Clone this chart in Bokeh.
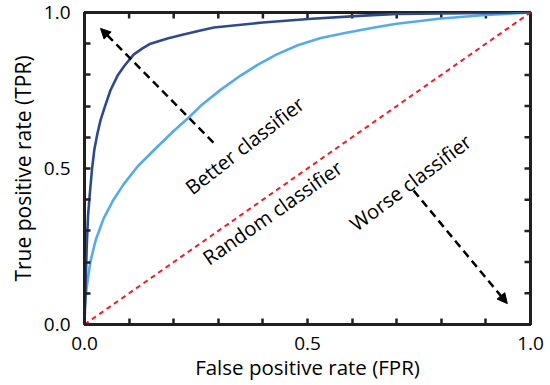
from bokeh.plotting import figure
from bokeh.models import Arrow, NormalHead, FixedTicker, Range1d, PrintfTickFormatter
from bokeh.core.properties import value
from bokeh.embed import file_html
from bokeh.resources import INLINE

# --- data ---
good_fpr = [0.0, 0.002, 0.005, 0.008, 0.012, 0.017, 0.022, 0.029, 0.036, 0.045, 0.058,
            0.075, 0.09, 0.11, 0.13, 0.148, 0.186, 0.215, 0.26, 0.29, 0.40, 0.51,
            0.626, 0.70, 0.85, 1.0]
good_tpr = [0.0, 0.10, 0.25, 0.35, 0.42, 0.50, 0.56, 0.612, 0.655, 0.695, 0.75,
            0.80, 0.83, 0.865, 0.885, 0.90, 0.917, 0.927, 0.942, 0.952, 0.968, 0.98,
            0.99, 0.995, 0.998, 1.0]

fair_fpr = [0.0, 0.005, 0.013, 0.025, 0.043, 0.065, 0.088, 0.12, 0.16, 0.20, 0.235, 0.26,
            0.305, 0.35, 0.388, 0.43, 0.478, 0.53, 0.59, 0.65, 0.70, 0.80, 0.90, 1.0]
fair_tpr = [0.045, 0.12, 0.20, 0.27, 0.34, 0.40, 0.45, 0.508, 0.565, 0.62, 0.665, 0.70,
            0.752, 0.798, 0.832, 0.865, 0.895, 0.918, 0.936, 0.952, 0.964, 0.981, 0.992, 1.0]

random_fpr = [0.0, 1.0]
random_tpr = [0.0, 1.0]

major_ticks = [0.0, 0.5, 1.0]
minor_ticks = [0.1, 0.2, 0.3, 0.4, 0.6, 0.7, 0.8, 0.9]

x_title = "False positive rate (FPR)"
y_title = "True positive rate (TPR)"

note_text = ["Better classifier", "Random classifier", "Worse classifier"]
note_x = [0.359, 0.4215, 0.731]
note_y = [0.574, 0.359, 0.455]
note_angle = [38, 35, 37]

better_arrow = [0.289, 0.583, 0.036, 0.949]   # x0, y0, x1, y1
worse_arrow = [0.738, 0.429, 0.948, 0.067]

# --- styles ---
FONT = "Open Sans"
DARK = "#2E4A8E"
LIGHT = "#55ABEA"
RED = "#EE1C25"
FRAME = "#231F20"

p = figure(width=550, height=385, output_backend="svg", toolbar_location=None,
           x_range=Range1d(0, 1), y_range=Range1d(0, 1),
           min_border_left=84, min_border_right=20, min_border_top=12, min_border_bottom=61,
           x_axis_label=x_title, y_axis_label=y_title)
p.grid.visible = False
p.outline_line_color = FRAME
p.outline_line_width = 3
p.background_fill_color = "white"
p.border_fill_color = "white"

ticker = FixedTicker(ticks=major_ticks, minor_ticks=minor_ticks)
for ax in (p.xaxis[0], p.yaxis[0]):
    ax.ticker = ticker
    ax.formatter = PrintfTickFormatter(format="%.1f")
    ax.axis_line_color = FRAME
    ax.axis_line_width = 3
    ax.major_tick_line_color = FRAME
    ax.minor_tick_line_color = FRAME
    ax.major_tick_line_width = 2.5
    ax.minor_tick_line_width = 2.5
    ax.major_tick_in = 6
    ax.major_tick_out = 0
    ax.minor_tick_in = 6
    ax.minor_tick_out = 0
    ax.major_label_text_font = FONT
    ax.major_label_text_font_size = "19px"
    ax.major_label_text_color = "black"
    ax.axis_label_text_font = FONT
    ax.axis_label_text_font_style = "normal"
    ax.axis_label_text_color = "black"

p.xaxis.axis_label_text_font_size = "20.5px"
p.yaxis.axis_label_text_font_size = "21px"
p.xaxis.major_label_standoff = 12
p.xaxis.axis_label_standoff = 0
p.yaxis.major_label_standoff = 14
p.yaxis.axis_label_standoff = 4

# inward ticks on the top and right edges of the box
all_ticks = sorted(major_ticks + minor_ticks)
p.ray(x=all_ticks, y=[1.0] * len(all_ticks), length=6, length_units="screen",
      angle=-90, angle_units="deg", line_color=FRAME, line_width=2.5)
p.ray(x=[1.0] * len(all_ticks), y=all_ticks, length=6, length_units="screen",
      angle=180, angle_units="deg", line_color=FRAME, line_width=2.5)

p.line(random_fpr, random_tpr, line_color=RED, line_width=2, line_dash="5 4")
p.line(fair_fpr, fair_tpr, line_color=LIGHT, line_width=2.6, line_join="round")
p.line(good_fpr, good_tpr, line_color=DARK, line_width=2.6, line_join="round")

for a in (better_arrow, worse_arrow):
    p.add_layout(Arrow(x_start=a[0], y_start=a[1], x_end=a[2], y_end=a[3],
                       line_color="black", line_width=2.5, line_dash="8 5",
                       end=NormalHead(size=10, fill_color="black", line_color="black", line_width=1)))

p.text(x=note_x, y=note_y, text=note_text, angle=note_angle, angle_units="deg",
       text_font=value(FONT), text_font_size="20px", text_color="black",
       text_align="center", text_baseline="middle")

open("out.html", "w").write(file_html(p, INLINE))
